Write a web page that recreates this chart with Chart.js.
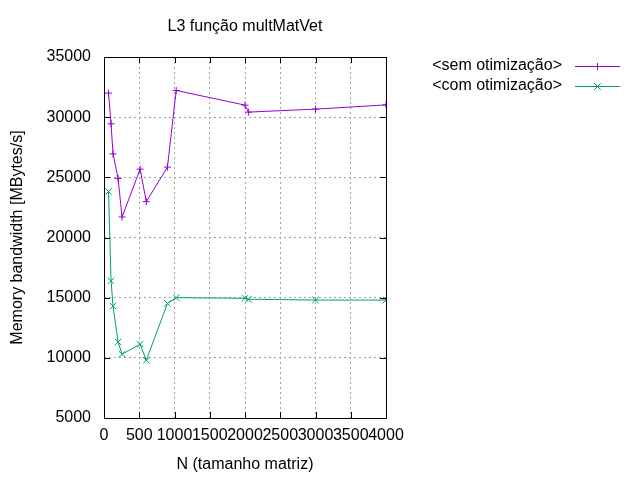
<!DOCTYPE html>
<html>
<head>
<meta charset="utf-8">
<script src="https://cdn.jsdelivr.net/npm/chart.js@4.4.1/dist/chart.umd.min.js"></script>
<style>
  html, body { margin: 0; padding: 0; background: #fff; }
  #wrap { width: 640px; height: 480px; }
</style>
</head>
<body>
<div id="wrap"><canvas id="chart" width="640" height="480"></canvas></div>
<script>
// Values
const sizesN = [64, 100, 128, 200, 256, 512, 600, 900, 1024, 2000, 2048, 3000, 4000];
const semOtimizacao = [32000, 29450, 26950, 24900, 21700, 25680, 22980, 25850, 32220, 31000, 30420, 30670, 31020];
const comOtimizacao = [23820, 16400, 14300, 11320, 10300, 11120, 9800, 14520, 15000, 14950, 14870, 14800, 14800];
const xTicks = [0, 500, 1000, 1500, 2000, 2500, 3000, 3500, 4000];
const yTicks = [5000, 10000, 15000, 20000, 25000, 30000, 35000];

const chartTitle = 'L3 função multMatVet';
const seriesLabels = ['<sem otimização>', '<com otimização>'];
const seriesColors = ['#9400d3', '#009e73'];

const FONT = "'Liberation Sans', Arial, sans-serif";

function toPoints(xs, ys) {
    return xs.map((x, i) => ({ x: x, y: ys[i] }));
}

// gnuplot look: black frame, inward ticks, custom title and key
const gnuplotFrame = {
    id: 'gnuplotFrame',
    afterDraw(chart) {
        const ctx = chart.ctx;
        const a = chart.chartArea;
        const xs = chart.scales.x;
        const ys = chart.scales.y;
        ctx.save();
        ctx.strokeStyle = '#000';
        ctx.lineWidth = 1;
        ctx.beginPath();
        xTicks.forEach(v => {
            const px = Math.round(xs.getPixelForValue(v)) + 0.5;
            ctx.moveTo(px, a.bottom); ctx.lineTo(px, a.bottom - 6);
            ctx.moveTo(px, a.top); ctx.lineTo(px, a.top + 6);
        });
        yTicks.forEach(v => {
            const py = Math.round(ys.getPixelForValue(v)) + 0.5;
            ctx.moveTo(a.left, py); ctx.lineTo(a.left + 6, py);
            ctx.moveTo(a.right, py); ctx.lineTo(a.right - 6, py);
        });
        ctx.stroke();
        ctx.strokeRect(Math.round(a.left) + 0.5, Math.round(a.top) + 0.5,
            Math.round(a.right - a.left), Math.round(a.bottom - a.top));

        // title
        ctx.fillStyle = '#000';
        ctx.font = '16px ' + FONT;
        ctx.textAlign = 'center';
        ctx.textBaseline = 'middle';
        ctx.fillText(chartTitle, (a.left + a.right) / 2, 27);

        // key
        chart.data.datasets.forEach((ds, i) => {
            const y = 66 + i * 20;
            ctx.textAlign = 'right';
            ctx.fillStyle = '#000';
            ctx.fillText(ds.label, 562, y);
            ctx.strokeStyle = ds.borderColor;
            ctx.lineWidth = 1;
            ctx.beginPath();
            ctx.moveTo(575, y + 0.5); ctx.lineTo(620, y + 0.5);
            ctx.stroke();
            Chart.helpers.drawPoint(ctx, {
                pointStyle: ds.pointStyle, radius: ds.pointRadius, borderWidth: 1
            }, 597.5, y + 0.5);
        });
        ctx.restore();
    }
};

new Chart(document.getElementById('chart'), {
    type: 'line',
    data: {
        datasets: [
            {
                label: seriesLabels[0],
                data: toPoints(sizesN, semOtimizacao),
                borderColor: seriesColors[0],
                backgroundColor: seriesColors[0],
                borderWidth: 1,
                pointStyle: 'cross',
                pointRadius: 3.5,
                pointBorderWidth: 1,
                tension: 0,
                fill: false
            },
            {
                label: seriesLabels[1],
                data: toPoints(sizesN, comOtimizacao),
                borderColor: seriesColors[1],
                backgroundColor: seriesColors[1],
                borderWidth: 1,
                pointStyle: 'crossRot',
                pointRadius: 4.6,
                pointBorderWidth: 1,
                tension: 0,
                fill: false
            }
        ]
    },
    options: {
        responsive: false,
        animation: false,
        devicePixelRatio: 1,
        layout: { padding: { top: 57, right: 254, bottom: 0, left: 0 } },
        plugins: {
            legend: { display: false },
            title: { display: false },
            tooltip: { enabled: false }
        },
        scales: {
            x: {
                type: 'linear',
                min: 0,
                max: 4000,
                afterBuildTicks: s => { s.ticks = xTicks.map(v => ({ value: v })); },
                afterFit: s => { s.height = 62; },
                ticks: {
                    autoSkip: false,
                    maxRotation: 0,
                    padding: 8,
                    color: '#000',
                    font: { family: FONT, size: 16 },
                    callback: v => String(v)
                },
                grid: { color: '#a0a0a0', drawTicks: false, lineWidth: 1 },
                border: { display: false, dash: [2, 3] },
                title: {
                    display: true,
                    text: 'N (tamanho matriz)',
                    color: '#000',
                    font: { family: FONT, size: 16 },
                    padding: { top: 0, bottom: 6 }
                }
            },
            y: {
                type: 'linear',
                min: 5000,
                max: 35000,
                afterBuildTicks: s => { s.ticks = yTicks.map(v => ({ value: v })); },
                afterFit: s => { s.width = 104; },
                ticks: {
                    padding: 13,
                    color: '#000',
                    font: { family: FONT, size: 16 },
                    callback: v => String(v)
                },
                grid: { color: '#a0a0a0', drawTicks: false, lineWidth: 1 },
                border: { display: false, dash: [2, 3] },
                title: {
                    display: true,
                    text: 'Memory bandwidth [MBytes/s]',
                    color: '#000',
                    font: { family: FONT, size: 16 },
                    padding: { top: 8, bottom: 0 }
                }
            }
        }
    },
    plugins: [gnuplotFrame]
});
</script>
</body>
</html>
